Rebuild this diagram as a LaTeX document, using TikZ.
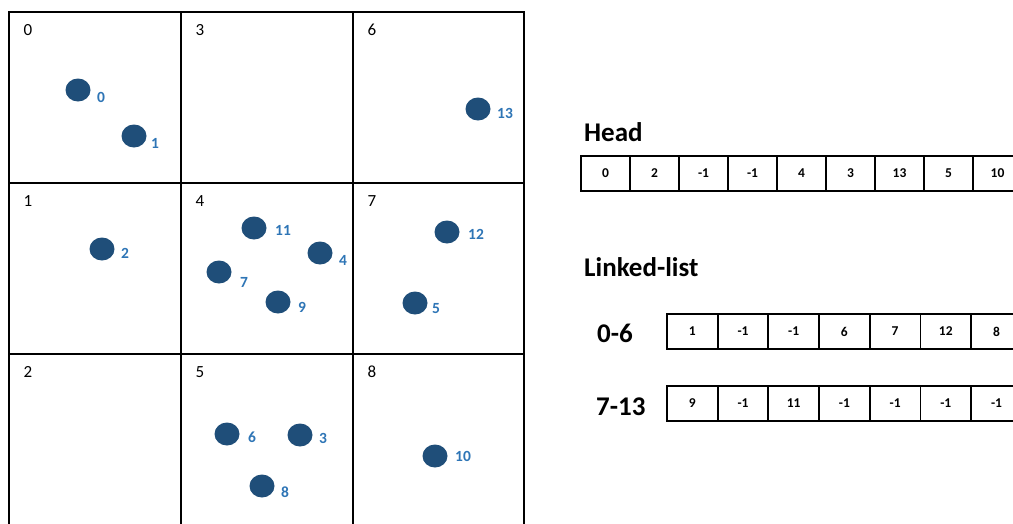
\documentclass[tikz,border=0pt]{standalone}
\usepackage{fontspec}
\setmainfont{Carlito}
\usetikzlibrary{shapes.geometric}
\definecolor{dotblue}{HTML}{1F4E79}
\definecolor{lblblue}{HTML}{2E75B6}
\begin{document}
\begin{tikzpicture}[x=1pt,y=-1pt,
  gridcell/.style={draw=black,line width=2pt,inner sep=0pt,anchor=north west},
  celllabel/.style={font=\fontsize{17}{20}\selectfont,inner sep=0pt,anchor=center},
  pdot/.style={ellipse,fill=dotblue,minimum width=25pt,minimum height=23pt,inner sep=0pt},
  plabel/.style={font=\fontsize{15.5}{18}\selectfont\bfseries,text=lblblue,inner sep=0pt},
  tcell/.style={draw=black,line width=1.8pt,inner sep=0pt,minimum height=35pt,font=\fontsize{13.5}{15}\selectfont\bfseries},
  headcell/.style={tcell,minimum width=49pt},
  listcell/.style={tcell,minimum width=50.7pt},
  title/.style={font=\fontsize{27}{30}\selectfont\bfseries,inner sep=0pt,anchor=base west}]
\useasboundingbox (0,0) rectangle (1013,523);
\fill[white] (0,0) rectangle (1013,523);
\begin{scope}
\clip (0,0) rectangle (1013,523);
% grid cells (column-major numbering)
\node[gridcell,minimum width=172pt,minimum height=171pt] (c0) at (8,11) {};
\node[gridcell,minimum width=172pt,minimum height=171pt] (c1) at (8,182) {};
\node[gridcell,minimum width=172pt,minimum height=174pt] (c2) at (8,353) {};
\node[gridcell,minimum width=172pt,minimum height=171pt] (c3) at (180,11) {};
\node[gridcell,minimum width=172pt,minimum height=171pt] (c4) at (180,182) {};
\node[gridcell,minimum width=172pt,minimum height=174pt] (c5) at (180,353) {};
\node[gridcell,minimum width=171pt,minimum height=171pt] (c6) at (352,11) {};
\node[gridcell,minimum width=171pt,minimum height=171pt] (c7) at (352,182) {};
\node[gridcell,minimum width=171pt,minimum height=174pt] (c8) at (352,353) {};
\foreach \i in {0,...,8}{
  \node[celllabel] (n\i) at ([xshift=20pt,yshift=-19pt]c\i.north west) {\i};
}
% points
\node[pdot] (d0) at (78,90) {};   \node[plabel] (l0) at (101,97) {0};
\node[pdot] (d1) at (134,136) {}; \node[plabel] (l1) at (155,143) {1};
\node[pdot] (d13) at (478,109) {}; \node[plabel] (l13) at (505,113) {13};
\node[pdot] (d2) at (102,249) {}; \node[plabel] (l2) at (125,253) {2};
\node[pdot] (d11) at (254,228) {}; \node[plabel] (l11) at (283,230) {11};
\node[pdot] (d4) at (320,253) {}; \node[plabel] (l4) at (343,260) {4};
\node[pdot] (d7) at (219,272) {}; \node[plabel] (l7) at (244,282) {7};
\node[pdot] (d9) at (278,302) {}; \node[plabel] (l9) at (302,307) {9};
\node[pdot] (d12) at (447,232) {}; \node[plabel] (l12) at (476,234) {12};
\node[pdot] (d5) at (415,303) {}; \node[plabel] (l5) at (436,309) {5};
\node[pdot] (d6) at (227,434) {}; \node[plabel] (l6) at (252,437) {6};
\node[pdot] (d3) at (300,435) {}; \node[plabel] (l3) at (323,438) {3};
\node[pdot] (d8) at (262,486) {}; \node[plabel] (l8) at (285,492) {8};
\node[pdot] (d10) at (435,456) {}; \node[plabel] (l10) at (463,456) {10};
% Head table
\node[title] (head) at (584,141) {Head};
\foreach \v [count=\k from 0] in {0,2,-1,-1,4,3,13,5,10}{
  \node[headcell] (h\k) at (605.5+49*\k,173.5) {\v};
}
% Linked list
\node[title] (ll) at (584,276) {Linked-list};
\node[title] (r1) at (597,342) {0-6};
\node[title] (r2) at (596,415) {7-13};
\foreach \v [count=\k from 0] in {1,-1,-1,6,7,12,8}{
  \node[listcell] (a\k) at (692.3+50.7*\k,331.5) {\v};
}
\foreach \v [count=\k from 0] in {9,-1,11,-1,-1,-1,-1}{
  \node[listcell] (b\k) at (692.3+50.7*\k,403.5) {\v};
}
\end{scope}
\end{tikzpicture}
\end{document}
